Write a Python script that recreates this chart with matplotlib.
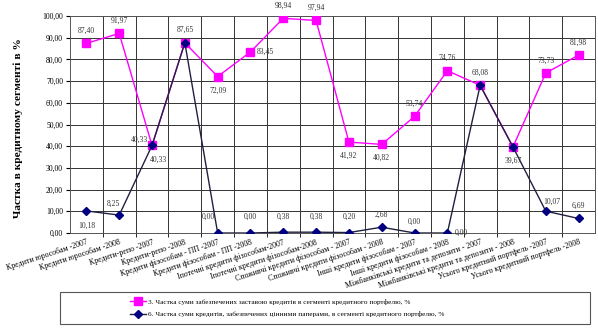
import matplotlib
matplotlib.use("Agg")
import matplotlib.pyplot as plt
from matplotlib.ticker import FuncFormatter, MultipleLocator
from matplotlib.patches import Rectangle

plt.rcParams['font.family'] = ['Liberation Serif', 'DejaVu Serif']

categories = [
    "Кредити юрособам -2007", "Кредити юрособам -2008",
    "Кредити-репо -2007", "Кредити-репо -2008",
    "Кредити фізособам - ПП -2007", "Кредити фізособам - ПП -2008",
    "Іпотечні кредити фізособам-2007", "Іпотечні кредити фізособам-2008",
    "Споживчі кредити фізособам - 2007", "Споживчі кредити фізособам - 2008",
    "Інші кредити фізособам - 2007", "Інші кредити фізособам - 2008",
    "Міжбанківські кредити та депозити - 2007", "Міжбанківські кредити та депозити - 2008",
    "Усього кредитний портфель -2007", "Усього кредитний портфель -2008",
]
share_collateral = [87.40, 91.97, 40.33, 87.65, 72.09, 83.45, 98.94, 97.94,
                    41.92, 40.82, 53.74, 74.76, 68.08, 39.67, 73.73, 81.98]
share_securities = [10.18, 8.25, 40.33, 87.65, 0.00, 0.00, 0.38, 0.38,
                    0.20, 2.68, 0.00, 0.00, 68.08, 39.67, 10.07, 6.69]
name_collateral = "3. Частка суми забезпечених заставою кредитів в сегменті кредитного портфелю, %"
name_securities = "6. Частка суми кредитів, забезпечених цінними паперами, в сегменті кредитного портфелю, %"

# label offsets in points (dx, dy)
off_collateral = [(0, 9), (0, 9), (-9, 4), (0, 9), (0, -10), (11, 0), (0, 9), (0, 9),
                  (0, -10), (0, -10), (0, 9), (0, 9), (0, 9), (0, -10), (0, 9), (0, 9)]
off_securities = [(0, -11), (-4, 8), (5, -10), (0, 9), (-7, 12), (0, 12), (0, 11), (0, 11),
                  (0, 11), (0, 9), (0, 8), (10, 0), (0, 9), (0, -10), (4, 7), (0, 9)]

fmt = lambda v: f"{v:.2f}".replace(".", ",")

fig = plt.figure(figsize=(5.98, 3.30), dpi=100)
ax = fig.add_axes([70/598, 1-233/330, 525/598, 217/330])

x = list(range(len(categories)))
ax.plot(x, share_collateral, color="#ff00ff", lw=1.0, marker="s", ms=6,
        mfc="#ff00ff", mec="#ff00ff", label=name_collateral, zorder=3)
ax.plot(x, share_securities, color="#202040", lw=1.0, marker="D", ms=4.5,
        mfc="#000080", mec="#000080", label=name_securities, zorder=4)

for i, v in enumerate(share_collateral):
    dx, dy = off_collateral[i]
    ax.annotate(fmt(v), (i, v), xytext=(dx, dy), textcoords="offset points",
                ha="center", va="center", fontsize=5.5, color="#333333")
for i, v in enumerate(share_securities):
    if v == share_collateral[i] and off_securities[i] == off_collateral[i]:
        continue  # same label already drawn
    dx, dy = off_securities[i]
    ax.annotate(fmt(v), (i, v), xytext=(dx, dy), textcoords="offset points",
                ha="center", va="center", fontsize=5.5, color="#333333")

ax.set_xlim(-0.5, len(categories) - 0.5)
ax.set_ylim(0, 100)
ax.yaxis.set_major_locator(MultipleLocator(10))
ax.yaxis.set_major_formatter(FuncFormatter(lambda v, p: fmt(v)))
ax.set_xticks(x)
ax.set_xticklabels(categories, rotation=18, ha="right", rotation_mode="anchor", fontsize=5.7)
ax.set_xticks([i + 0.5 for i in x[:-1]], minor=True)
ax.tick_params(axis="x", which="major", length=0, pad=4)
ax.tick_params(axis="x", which="minor", length=3)
ax.tick_params(axis="y", labelsize=5.5, length=3, pad=2)
ax.grid(True, axis="y", color="#333333", lw=0.7)
ax.grid(True, axis="x", which="minor", color="#333333", lw=0.7)
for s in ax.spines.values():
    s.set_color("#555555")
    s.set_linewidth(0.7)

fig.text(18/598, 1-128/330, "Частка в кредитному сегменті в %", rotation=90,
         ha="center", va="center", fontsize=8.2, fontweight="bold")

fig.patches.append(Rectangle((60/598, 1-324/330), 530/598, 32/330, transform=fig.transFigure,
                             fill=False, ec="#555555", lw=0.8))
fig.legend(loc="center left", bbox_to_anchor=(130/598, 1-308/330), frameon=False,
           fontsize=5.2, handlelength=2.2, labelspacing=0.9, handletextpad=0.3,
           borderaxespad=0, borderpad=0)

fig.savefig("out.png", dpi=100)
